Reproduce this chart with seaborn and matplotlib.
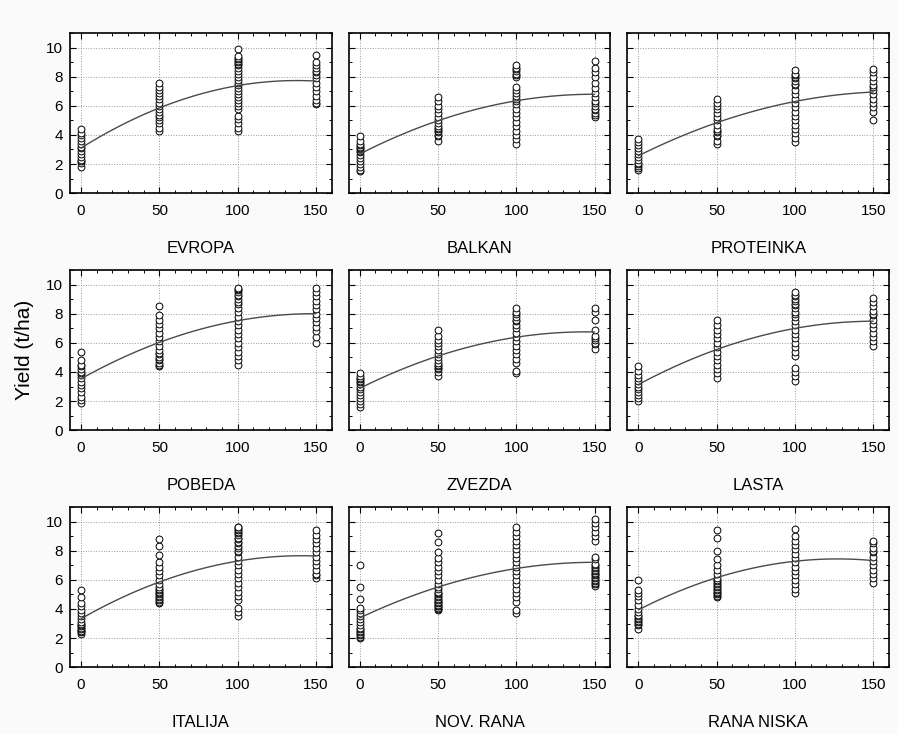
import numpy as np
import pandas as pd
import matplotlib
matplotlib.use("Agg")
import matplotlib.pyplot as plt
import seaborn as sns
from matplotlib.ticker import MultipleLocator

# N doses (kg/ha) and varieties
doses = [0, 50, 100, 150]
varieties = ["EVROPA", "BALKAN", "PROTEINKA",
             "POBEDA", "ZVEZDA", "LASTA",
             "ITALIJA", "NOV. RANA", "RANA NISKA"]

# yields (t/ha), one list per dose
evropa = [
    [1.8, 2.1, 2.2, 2.3, 2.5, 2.7, 2.9, 3.1, 3.2, 3.4, 3.6, 3.8, 4.0, 4.1, 4.4],
    [4.3, 4.5, 4.8, 5.0, 5.2, 5.4, 5.6, 5.8, 6.0, 6.2, 6.5, 6.7, 6.9, 7.1, 7.3, 7.6],
    [4.3, 4.5, 4.8, 5.1, 5.3, 5.8, 6.0, 6.2, 6.4, 6.6, 6.8, 7.0, 7.2, 7.4, 7.6,
     7.8, 8.0, 8.2, 8.4, 8.6, 8.8, 8.9, 9.0, 9.1, 9.2, 9.3, 9.4, 9.9],
    [6.1, 6.2, 6.4, 6.7, 7.0, 7.3, 7.6, 7.9, 8.1, 8.3, 8.4, 8.6, 8.8, 9.0, 9.5],
]
balkan = [
    [1.5, 1.6, 1.8, 2.0, 2.2, 2.4, 2.6, 2.8, 2.9, 3.0, 3.1, 3.2, 3.3, 3.4, 3.6, 3.9],
    [3.6, 3.9, 4.0, 4.2, 4.3, 4.4, 4.5, 4.6, 4.8, 5.0, 5.2, 5.5, 5.8, 6.0, 6.3, 6.6],
    [3.4, 3.7, 4.0, 4.3, 4.6, 4.9, 5.2, 5.5, 5.8, 6.1, 6.3, 6.5, 6.7, 6.9, 7.1,
     7.3, 8.0, 8.1, 8.2, 8.4, 8.5, 8.6, 8.8],
    [5.2, 5.4, 5.5, 5.7, 5.8, 6.0, 6.2, 6.3, 6.6, 6.9, 7.2, 7.6, 8.0, 8.3, 8.6, 9.1],
]
proteinka = [
    [1.6, 1.7, 1.9, 2.0, 2.1, 2.3, 2.5, 2.7, 2.9, 3.1, 3.3, 3.5, 3.7],
    [3.4, 3.6, 3.9, 4.0, 4.2, 4.3, 4.4, 4.7, 5.0, 5.2, 5.5, 5.8, 6.0, 6.2, 6.5],
    [3.5, 3.8, 4.1, 4.4, 4.7, 5.0, 5.3, 5.6, 5.9, 6.2, 6.5, 6.8, 7.1, 7.4, 7.5,
     7.7, 7.9, 8.0, 8.1, 8.2, 8.45],
    [5.0, 5.6, 5.9, 6.2, 6.5, 6.8, 7.1, 7.3, 7.4, 7.7, 8.0, 8.3, 8.55],
]
pobeda = [
    [1.9, 2.1, 2.3, 2.6, 2.9, 3.1, 3.3, 3.6, 3.8, 3.9, 4.0, 4.2, 4.4, 4.5, 4.8, 5.4],
    [4.4, 4.5, 4.6, 4.8, 4.9, 5.0, 5.2, 5.3, 5.5, 5.8, 6.1, 6.4, 6.7, 7.0, 7.3,
     7.6, 7.9, 8.5],
    [4.5, 4.8, 5.1, 5.4, 5.7, 6.0, 6.3, 6.6, 6.9, 7.2, 7.5, 7.8, 8.1, 8.4, 8.7,
     8.8, 9.0, 9.2, 9.3, 9.5, 9.6, 9.7, 9.8],
    [6.0, 6.4, 6.8, 7.1, 7.4, 7.7, 8.0, 8.3, 8.6, 8.9, 9.2, 9.5, 9.8],
]
zvezda = [
    [1.6, 1.8, 2.0, 2.2, 2.4, 2.6, 2.8, 3.0, 3.2, 3.3, 3.4, 3.5, 3.6, 3.7, 3.9],
    [3.7, 4.0, 4.2, 4.3, 4.4, 4.5, 4.6, 4.8, 5.0, 5.2, 5.5, 5.8, 6.0, 6.2, 6.5, 6.9],
    [3.95, 4.1, 4.6, 4.9, 5.2, 5.5, 5.8, 6.1, 6.4, 6.7, 7.0, 7.2, 7.5, 7.6, 7.8,
     8.0, 8.1, 8.4],
    [5.6, 5.9, 6.0, 6.2, 6.3, 6.5, 6.9, 7.6, 8.1, 8.4],
]
lasta = [
    [2.0, 2.2, 2.4, 2.6, 2.8, 3.0, 3.2, 3.4, 3.6, 3.8, 4.1, 4.4],
    [3.6, 3.9, 4.2, 4.5, 4.8, 5.1, 5.4, 5.7, 6.0, 6.3, 6.6, 6.9, 7.2, 7.6],
    [3.4, 3.7, 4.0, 4.3, 5.1, 5.4, 5.7, 6.0, 6.3, 6.6, 6.9, 7.2, 7.5, 7.8, 8.0,
     8.1, 8.4, 8.6, 8.7, 8.9, 9.0, 9.2, 9.3, 9.5],
    [5.8, 6.1, 6.4, 6.7, 7.0, 7.3, 7.6, 7.9, 8.0, 8.2, 8.5, 8.8, 9.1],
]
italija = [
    [2.3, 2.4, 2.5, 2.5, 2.6, 2.7, 2.8, 2.9, 3.0, 3.1, 3.3, 3.5, 3.7, 3.9, 4.2,
     4.4, 4.8, 5.3],
    [4.4, 4.5, 4.6, 4.7, 4.8, 4.9, 5.0, 5.1, 5.2, 5.3, 5.4, 5.5, 5.7, 6.0, 6.3,
     6.6, 6.9, 7.2, 7.7, 8.3, 8.8],
    [3.5, 3.8, 4.1, 4.6, 4.9, 5.2, 5.5, 5.8, 6.1, 6.4, 6.7, 7.0, 7.3, 7.6, 7.9,
     8.0, 8.2, 8.3, 8.5, 8.6, 8.8, 8.9, 9.1, 9.2, 9.3, 9.4, 9.5, 9.6, 9.6],
    [6.1, 6.3, 6.4, 6.7, 7.0, 7.3, 7.6, 7.9, 8.2, 8.5, 8.8, 9.1, 9.4],
]
nov_rana = [
    [2.0, 2.1, 2.2, 2.3, 2.4, 2.5, 2.6, 2.7, 2.9, 3.1, 3.3, 3.5, 3.7, 3.9, 4.1,
     4.7, 5.5, 7.0],
    [3.9, 4.0, 4.1, 4.2, 4.2, 4.3, 4.4, 4.5, 4.5, 4.6, 4.7, 4.8, 4.9, 5.0, 5.1,
     5.2, 5.4, 5.5, 5.7, 6.0, 6.3, 6.6, 6.9, 7.2, 7.5, 7.9, 8.6, 9.2],
    [3.7, 3.9, 4.5, 4.8, 5.1, 5.4, 5.7, 6.0, 6.3, 6.6, 6.9, 7.2, 7.5, 7.8, 8.1,
     8.4, 8.7, 9.0, 9.3, 9.6],
    [5.6, 5.7, 5.8, 5.9, 6.0, 6.1, 6.2, 6.3, 6.4, 6.5, 6.6, 6.7, 6.8, 6.9, 7.0,
     7.1, 7.4, 7.6, 8.7, 9.0, 9.3, 9.6, 9.9, 10.2],
]
rana_niska = [
    [2.6, 2.9, 3.0, 3.1, 3.2, 3.3, 3.4, 3.5, 3.6, 3.8, 4.0, 4.3, 4.6, 4.9, 5.1,
     5.3, 6.0],
    [4.8, 4.9, 5.0, 5.1, 5.2, 5.3, 5.4, 5.5, 5.6, 5.7, 5.8, 5.9, 6.0, 6.1, 6.4,
     6.7, 7.0, 7.4, 8.0, 8.9, 9.4],
    [5.1, 5.4, 5.7, 6.0, 6.3, 6.6, 6.9, 7.2, 7.5, 7.8, 8.1, 8.4, 8.7, 9.0, 9.5],
    [5.8, 6.1, 6.4, 6.7, 7.0, 7.3, 7.6, 7.9, 8.0, 8.2, 8.5, 8.7],
]

yields = [evropa, balkan, proteinka, pobeda, zvezda, lasta,
          italija, nov_rana, rana_niska]

rows = []
for name, groups in zip(varieties, yields):
    for dose, vals in zip(doses, groups):
        for v in vals:
            rows.append((name, dose, v))
df = pd.DataFrame(rows, columns=["variety", "N", "yield"])

sns.set_theme(style="ticks")
plt.rcParams["font.family"] = ["Liberation Sans", "DejaVu Sans"]
plt.rcParams["text.color"] = "black"
plt.rcParams["axes.labelcolor"] = "black"

fig, axes = plt.subplots(3, 3, figsize=(8.98, 7.34), dpi=100, sharey=True)
fig.patch.set_facecolor("#fafafa")
plt.subplots_adjust(left=0.078, right=0.99, top=0.955, bottom=0.091,
                    wspace=0.065, hspace=0.48)

for ax, name in zip(axes.flat, varieties):
    sub = df[df["variety"] == name]
    sns.regplot(data=sub, x="N", y="yield", order=2, ci=None, ax=ax,
                color="black",
                scatter_kws=dict(s=24, facecolors="white", edgecolors="black",
                                 linewidths=0.7, alpha=1, zorder=3),
                line_kws=dict(color="#4a4a4a", lw=1.0, zorder=4))
    ax.set_facecolor("white")
    ax.set_xlim(-7, 160)
    ax.set_ylim(0, 11)
    ax.xaxis.set_major_locator(MultipleLocator(50))
    ax.xaxis.set_minor_locator(MultipleLocator(10))
    ax.yaxis.set_major_locator(MultipleLocator(2))
    ax.yaxis.set_minor_locator(MultipleLocator(1))
    ax.grid(True, which="major", linestyle=":", color="#9a9a9a", lw=0.7)
    ax.tick_params(which="both", direction="in", top=True, right=True,
                   colors="black", labelsize=11)
    ax.tick_params(which="major", length=4, width=0.8)
    ax.tick_params(which="minor", length=2.5, width=0.7)
    ax.tick_params(axis="x", pad=8)
    ax.tick_params(axis="y", pad=5)
    for s in ax.spines.values():
        s.set_color("black")
        s.set_linewidth(1.2)
    ax.set_xlabel(name, fontsize=12, labelpad=16, color="black")
    ax.set_ylabel("")

fig.text(0.027, 0.523, "Yield (t/ha)", rotation=90, ha="center", va="center",
         fontsize=15, color="black")

fig.savefig("out.png", dpi=100, facecolor=fig.get_facecolor())
